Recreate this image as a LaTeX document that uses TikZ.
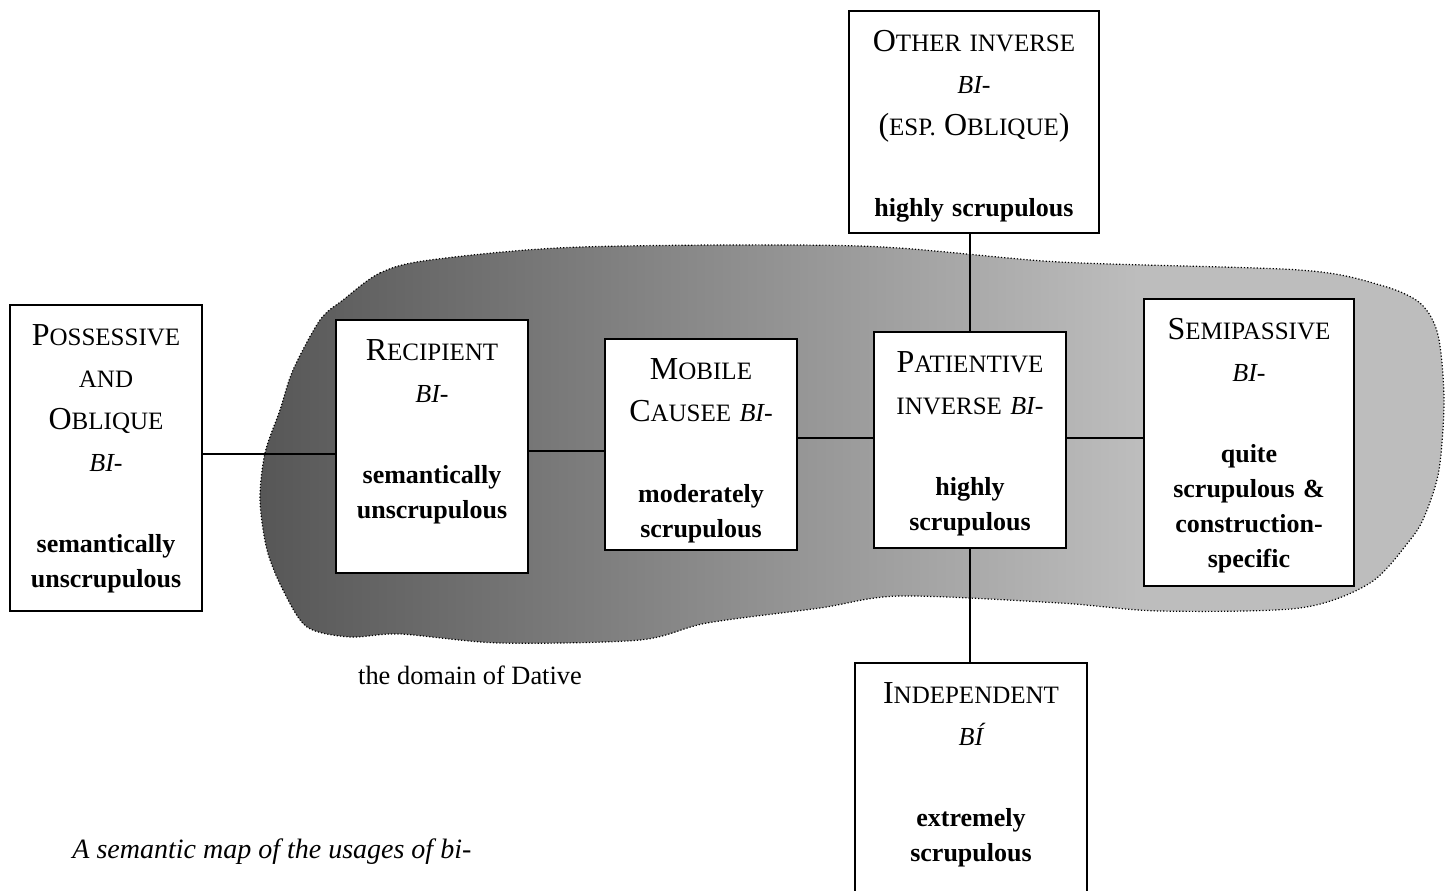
\documentclass[tikz,border=0pt]{standalone}
\usepackage{fontspec}
\setmainfont{Liberation Serif}
\usetikzlibrary{positioning}

\definecolor{blobdark}{gray}{0.34}
\definecolor{bloblight}{gray}{0.74}
\pgfdeclarehorizontalshading{dative}{100bp}{color(0bp)=(blobdark); color(25bp)=(blobdark); color(62bp)=(bloblight); color(100bp)=(bloblight)}

\newcommand{\capfirst}[1]{{\fontsize{16}{17.5}\selectfont #1}}
\newcommand{\judg}[1]{{\fontsize{13}{17.5}\selectfont\bfseries #1}}
\newcommand{\biform}[1]{{\fontsize{13}{17.5}\selectfont\itshape #1}}

\begin{document}
\begin{tikzpicture}[
    x=0.5pt, y=-0.5pt,
    usage/.style 2 args={draw, line width=0.9pt, fill=white, align=center, inner sep=0pt,
        font=\fontsize{12.5}{17.5}\selectfont, text height=20pt,
        text width=#1pt, text depth=#2pt-20pt},
    link/.style={line width=0.7pt},
    dativezone/.style={draw, line width=0.6pt, densely dotted, shading=dative}
]
\useasboundingbox (0,0) rectangle (1446,890);

% the domain of Dative
\draw[dativezone] plot[smooth cycle, tension=0.5] coordinates {
    (343,300) (380,273) (430,260) (580,247) (860,246) (1060,262) (1300,270)
    (1380,285) (1420,303) (1438,335) (1444,400) (1439,470) (1425,515) (1410,540)
    (1370,583) (1300,608) (1160,611) (1060,603) (900,596) (820,608) (707,623)
    (640,640) (500,643) (400,634) (350,637) (307,627) (283,590) (267,550)
    (260,500) (265,453) (280,410) (293,370) (320,320)};
\node[anchor=base, font=\fontsize{13.2}{15}\selectfont] (domlabel) at (470,684) {the domain of Dative};

\node[usage={96}{153}] (poss) at (106,458) {\capfirst{P}OSSESSIVE\\[3.5pt] AND\\[3.5pt] \capfirst{O}BLIQUE\\[3.5pt] \biform{BI-}\\[23pt] \judg{semantically}\\ \judg{unscrupulous}};
\node[usage={96}{126.5}] (recip) at (432,446.5) {\capfirst{R}ECIPIENT\\[3.5pt] \biform{BI-}\\[23pt] \judg{semantically}\\ \judg{unscrupulous}};
\node[usage={96}{105.5}] (mobile) at (701,444.5) {\capfirst{M}OBILE\\[3.5pt] \capfirst{C}AUSEE \biform{BI-}\\[23pt] \judg{moderately}\\ \judg{scrupulous}};
\node[usage={96}{108}] (patient) at (970,440) {\capfirst{P}ATIENTIVE\\[3.5pt] INVERSE \biform{BI-}\\[23pt] \judg{highly}\\ \judg{scrupulous}};
\node[usage={105}{143.5}] (semi) at (1249,442.5) {\capfirst{S}EMIPASSIVE\\[3.5pt] \biform{BI-}\\[23pt] \judg{quite}\\ \judg{scrupulous \&}\\ \judg{construction-}\\ \judg{specific}};
\node[usage={125}{111}] (other) at (974,122) {\capfirst{O}THER INVERSE\\[3.5pt] \biform{BI-}\\[3.5pt] \capfirst{(}ESP. \capfirst{O}BLIQUE\capfirst{)}\\[23pt] \judg{highly scrupulous}};
\node[usage={116}{130}] (indep) at (971,793) {\capfirst{I}NDEPENDENT\\[3.5pt] \biform{BÍ}\\[23pt] \judg{extremely}\\ \judg{scrupulous}};

\draw[link] ([yshift=2pt]poss.east) coordinate (c1) -- (c1 -| recip.west);
\draw[link] ([yshift=-2.25pt]recip.east) coordinate (c2) -- (c2 -| mobile.west);
\draw[link] ([yshift=3.25pt]mobile.east) coordinate (c3) -- (c3 -| patient.west);
\draw[link] ([yshift=1pt]patient.east) coordinate (c4) -- (c4 -| semi.west);
\draw[link] (patient.north) -- (patient.north |- other.south);
\draw[link] (patient.south) -- (patient.south |- indep.north);

\node[anchor=base west, inner sep=0pt, font=\fontsize{14}{16}\selectfont\itshape] (caption) at (72,858) {A semantic map of the usages of bi-};
\end{tikzpicture}
\end{document}
